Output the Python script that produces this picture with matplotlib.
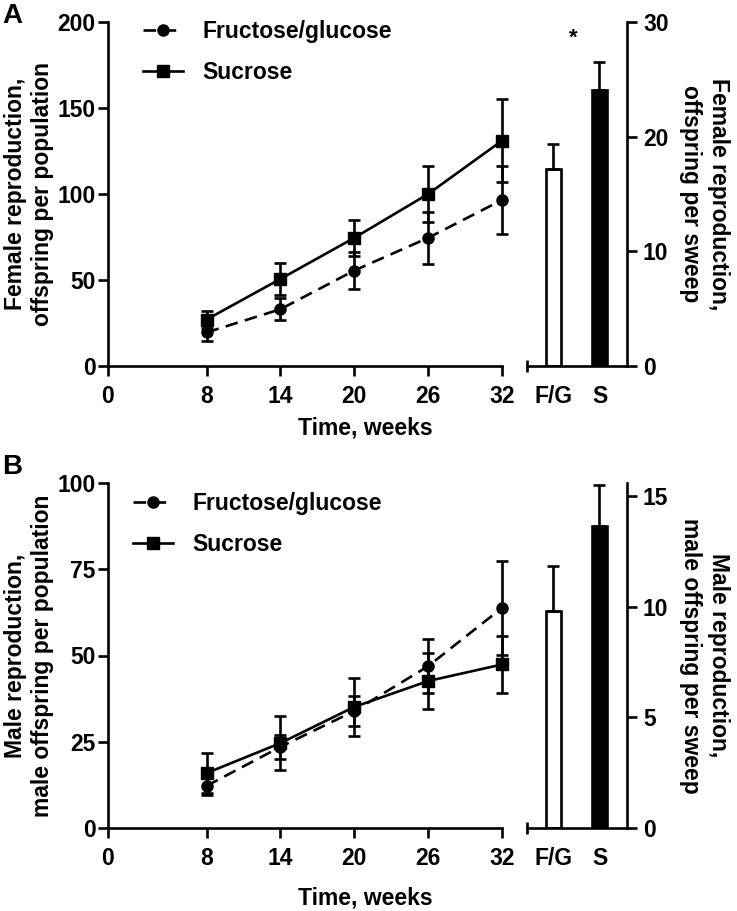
import numpy as np
import matplotlib
matplotlib.use('Agg')
import matplotlib.pyplot as plt

plt.rcParams['font.family'] = ['Liberation Sans', 'DejaVu Sans']
plt.rcParams['font.weight'] = 'bold'
plt.rcParams['axes.labelweight'] = 'bold'

weeks = [8, 14, 20, 26, 32]
week_ticks = [0, 8, 14, 20, 26, 32]

# panel A: female reproduction per population
fem_fg = [19.5, 33, 55.5, 74.5, 96.5]
fem_fg_err = [5, 6.5, 10.8, 15, 20]
fem_s = [27, 50.6, 74.5, 100, 131]
fem_s_err = [5, 9.5, 10.5, 16, 24]

# panel B: male reproduction per population
male_fg = [12.2, 23.5, 33.9, 46.9, 63.8]
male_fg_err = [2.7, 3.5, 4.3, 7.8, 13.6]
male_s = [15.9, 24.6, 35.1, 42.6, 47.4]
male_s_err = [5.8, 7.9, 8.5, 8.0, 8.2]

bar_labels = ['F/G', 'S']
fem_sweep = [17.2, 24.1]
fem_sweep_err = [2.2, 2.4]
male_sweep = [9.8, 13.65]
male_sweep_err = [2.05, 1.85]

W, H = 737, 911
fig = plt.figure(figsize=(W / 100, H / 100), dpi=100)

def px(x0, y_top, x1, y_bot):
    return [x0 / W, 1 - y_bot / H, (x1 - x0) / W, (y_bot - y_top) / H]

LW = 1.9
FS = 16.5

def line_panel(rect, fg, fg_err, s, s_err, ymax, yticks, ylabel, xlab_y, leg_xy):
    ax = fig.add_axes(rect)
    ax.errorbar(weeks, fg, yerr=fg_err, color='black', lw=LW, ls=(0, (4.8, 2.8)),
                marker='o', ms=8, capsize=4.5, capthick=LW, elinewidth=LW,
                label='Fructose/glucose', clip_on=False, zorder=3)
    ax.errorbar(weeks, s, yerr=s_err, color='black', lw=LW, ls='-',
                marker='s', ms=8, capsize=4.5, capthick=LW, elinewidth=LW,
                label='Sucrose', clip_on=False, zorder=3)
    ax.set_xlim(0, 32)
    ax.set_ylim(0, ymax)
    ax.set_xticks(week_ticks)
    ax.set_xticks([32], minor=True)
    ax.set_yticks(yticks)
    ax.tick_params(width=LW, length=7.5, labelsize=FS, direction='out')
    ax.tick_params(axis='x', pad=6)
    ax.tick_params(axis='y', pad=1.5)
    ax.tick_params(axis='x', which='minor', direction='in', length=3.5, width=LW)
    for sp in ['top', 'right']:
        ax.spines[sp].set_visible(False)
    for sp in ['left', 'bottom']:
        ax.spines[sp].set_linewidth(LW)
    ax.set_ylabel(ylabel, fontsize=FS, labelpad=2, linespacing=1.25)
    ax.set_xlabel('Time, weeks', fontsize=FS)
    ax.xaxis.set_label_coords((365 - rect[0] * W) / (rect[2] * W), xlab_y)
    handles, labels = ax.get_legend_handles_labels()
    handles = [h[0] for h in handles]
    ax.legend(handles, labels, loc='upper left', bbox_to_anchor=leg_xy,
              frameon=False, fontsize=FS, handlelength=1.75, handletextpad=0.85,
              labelspacing=0.78, borderaxespad=0, borderpad=0)
    return ax

def bar_panel(rect, vals, errs, ymax, yticks, ylabel):
    ax = fig.add_axes(rect)
    x = np.arange(len(vals))
    ax.bar(x, vals, width=0.32, color=['white', 'black'], edgecolor='black', lw=LW)
    ax.errorbar(x, vals, yerr=[np.zeros(len(errs)), errs], fmt='none',
                ecolor='black', elinewidth=LW, capsize=4.5, capthick=LW)
    ax.set_xlim(-0.576, 1.598)
    ax.set_ylim(0, ymax)
    ax.set_xticks(x)
    ax.set_xticklabels(bar_labels)
    ax.set_xticks([-0.576], minor=True)
    ax.set_yticks(yticks)
    ax.yaxis.tick_right()
    ax.yaxis.set_label_position('right')
    ax.tick_params(width=LW, length=7.5, labelsize=FS, direction='out')
    ax.tick_params(axis='y', pad=4)
    ax.tick_params(axis='x', length=0, pad=14)
    ax.tick_params(axis='x', which='minor', direction='inout', length=9, width=LW)
    for sp in ['top', 'left']:
        ax.spines[sp].set_visible(False)
    for sp in ['right', 'bottom']:
        ax.spines[sp].set_linewidth(LW)
    ax.set_ylabel(ylabel, fontsize=FS, rotation=270, labelpad=44, linespacing=1.25)
    return ax

# panel A
line_panel(px(108, 22, 502, 366), fem_fg, fem_fg_err, fem_s, fem_s_err, 200,
           [0, 50, 100, 150, 200], 'Female reproduction,\noffspring per population',
           -0.148, (0.089, 1.005))
axA = bar_panel(px(527, 22, 627, 366), fem_sweep, fem_sweep_err, 30, [0, 10, 20, 30],
                'Female reproduction,\noffspring per sweep')
axA.text(0.42, 28.6, '*', ha='center', va='center', fontsize=16)
fig.text(2 / W, 1 - 16 / H, 'A', fontsize=20, fontweight='bold', va='center')

# panel B
line_panel(px(108, 483, 502, 828), male_fg, male_fg_err, male_s, male_s_err, 100,
           [0, 25, 50, 75, 100], 'Male reproduction,\nmale offspring per population',
           -0.171, (0.063, 0.973))
bar_panel(px(527, 483, 627, 828), male_sweep, male_sweep_err, 15.6, [0, 5, 10, 15],
          'Male reproduction,\nmale offspring per sweep')
fig.text(2 / W, 1 - 467 / H, 'B', fontsize=20, fontweight='bold', va='center')

fig.savefig('out.png', dpi=100)
